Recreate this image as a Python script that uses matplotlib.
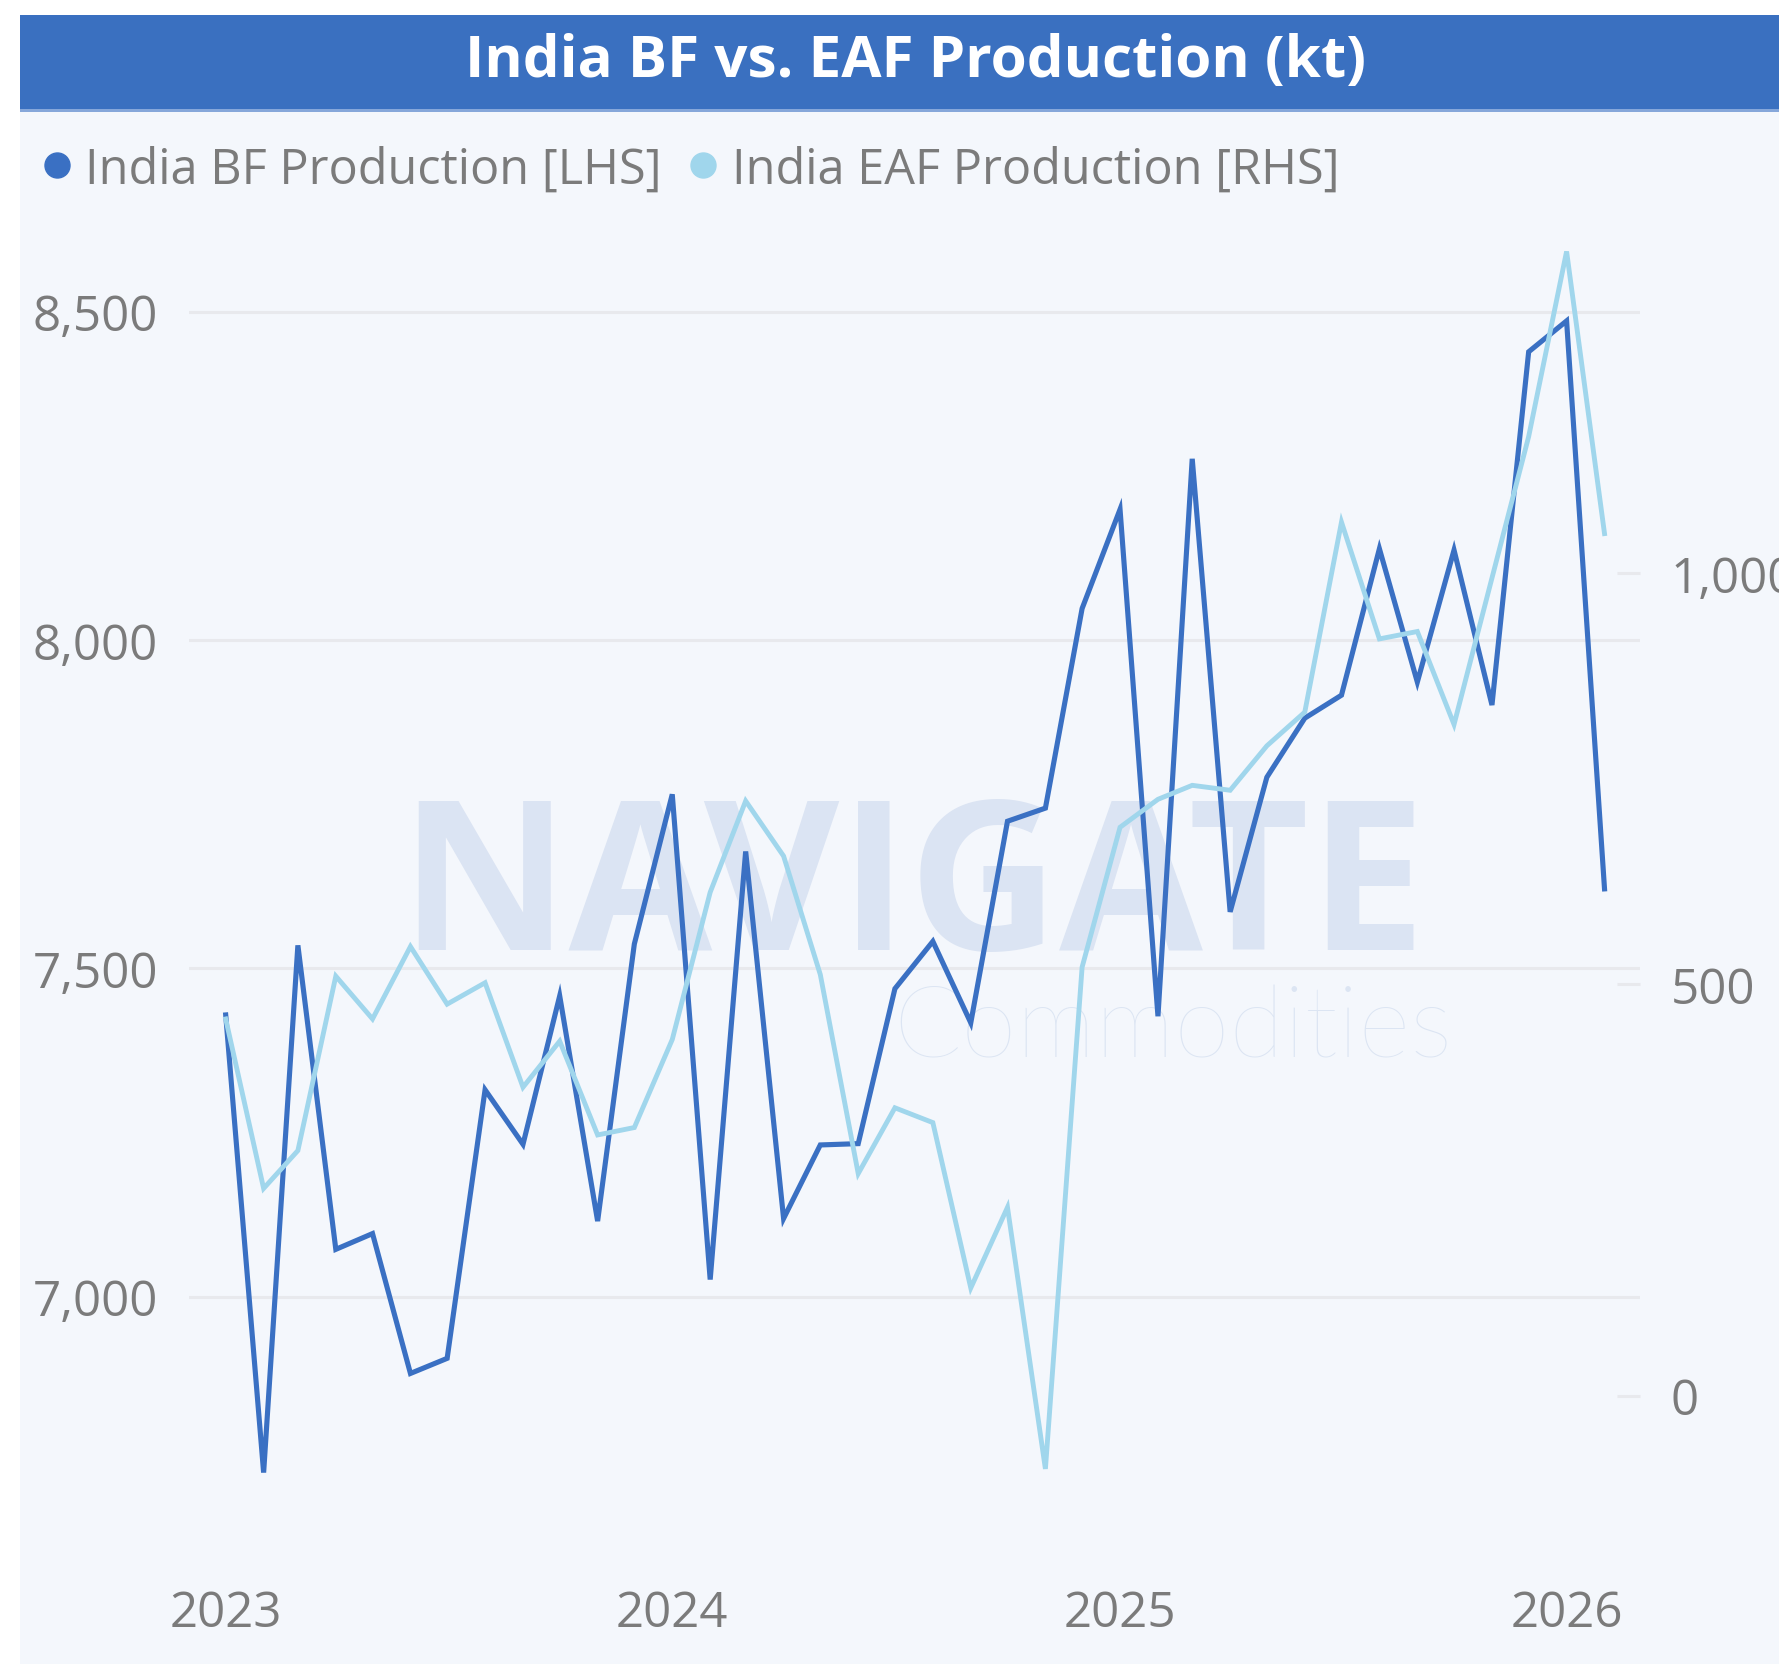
import matplotlib
matplotlib.use("Agg")
import matplotlib.pyplot as plt
from matplotlib.patches import Rectangle
from matplotlib.lines import Line2D
from matplotlib.ticker import FuncFormatter, FixedLocator
import pandas as pd

# ---------------- data ----------------
months = pd.date_range("2023-01-01", periods=38, freq="MS")
bf_production = [7429, 6732, 7535, 7072, 7096, 6883, 6906, 7315, 7232, 7458,
                 7115, 7537, 7765, 7026, 7678, 7119, 7231, 7233, 7469, 7541,
                 7417, 7724, 7744, 8048, 8199, 7427, 8276, 7586, 7791, 7881,
                 7916, 8139, 7936, 8137, 7901, 8439, 8486, 7621]
eaf_production = [458, 252, 298, 510, 458, 546, 476, 502, 375, 431,
                  317, 326, 433, 612, 723, 656, 512, 270, 350, 332,
                  131, 229, -89, 521, 691, 725, 742, 736, 790, 831,
                  1062, 920, 929, 816, 994, 1166, 1391, 1048]
left_ticks = [7000, 7500, 8000, 8500]
right_ticks = [0, 500, 1000]
year_ticks = ["2023-01-01", "2024-01-01", "2025-01-01", "2026-01-01"]
year_labels = ["2023", "2024", "2025", "2026"]
title = "India BF vs. EAF Production (kt)"
series_names = ["India BF Production [LHS]", "India EAF Production [RHS]"]

# ---------------- style ----------------
BF_COLOR = "#3a70c3"
EAF_COLOR = "#a0d6ec"
BAR_COLOR = "#3a70c0"
BG_COLOR = "#f4f7fc"
TEXT_GRAY = "#7b7b7b"
GRID = "#e8e9ed"

plt.rcParams["font.family"] = ["Open Sans", "DejaVu Sans"]

W, H = 1779, 1665
fig = plt.figure(figsize=(W / 100, H / 100), dpi=100)
fig.patch.set_facecolor("white")


def fx(px):
    return px / W


def fy(py):
    return 1 - py / H


# backgrounds (below the axes)
fig.patches.append(Rectangle((fx(20), 0), 1 - fx(20), fy(112), transform=fig.transFigure,
                             facecolor=BG_COLOR, edgecolor="none", zorder=-3))
fig.patches.append(Rectangle((fx(20), fy(110)), 1 - fx(20), fy(16) - fy(110),
                             transform=fig.transFigure, facecolor=BAR_COLOR,
                             edgecolor="none", zorder=-2))
fig.patches.append(Rectangle((fx(20), fy(113)), 1 - fx(20), fy(110) - fy(113),
                             transform=fig.transFigure, facecolor="#86a7da",
                             edgecolor="none", zorder=-2))

fig.text(fx(916), fy(77), title, ha="center", va="baseline", color="white",
         fontsize=42, fontweight="bold", zorder=3)

# legend
legend_items = [(57, 85, BF_COLOR), (703, 732, EAF_COLOR)]
for (dot_x, txt_x, col), name in zip(legend_items, series_names):
    fig.add_artist(Line2D([fx(dot_x)], [fy(166)], marker="o", markersize=18,
                          color=col, linestyle="none", transform=fig.transFigure))
    fig.text(fx(txt_x), fy(183.5), name, ha="left", va="baseline",
             color=TEXT_GRAY, fontsize=35)

# axes
top_px, bottom_px, left_px, right_px = 230, 1560, 189, 1640
ax = fig.add_axes([fx(left_px), fy(bottom_px), fx(right_px) - fx(left_px),
                   (bottom_px - top_px) / H])
ax.set_facecolor("none")
for s in ax.spines.values():
    s.set_visible(False)

# watermark
ax.text(fx(913), fy(950), "NAVIGATE", transform=fig.transFigure, ha="center",
        va="baseline", fontsize=150, fontweight="bold", color="#dbe4f3",
        family=["Open Sans", "DejaVu Sans"], zorder=0, clip_on=False)
ax.text(fx(1173), fy(1058), "Commodities", transform=fig.transFigure, ha="center",
        va="baseline", fontsize=72, fontweight="light", color="#dce5f3",
        family=["Lato", "Open Sans", "DejaVu Sans"], zorder=0, clip_on=False)

ax.plot(months, bf_production, color=BF_COLOR, linewidth=3.7,
        solid_joinstyle="miter", zorder=3)
ax.set_ylim(6600.4, 8626)
ax.set_xlim(pd.Timestamp("2022-12-02"), pd.Timestamp("2026-03-02"))
ax.yaxis.set_major_locator(FixedLocator(left_ticks))
ax.yaxis.set_major_formatter(FuncFormatter(lambda v, p: f"{v:,.0f}"))
ax.yaxis.grid(True, color=GRID, linewidth=2.2)
ax.set_axisbelow(True)
ax.tick_params(axis="y", length=0, pad=22.3, labelsize=35.5, labelcolor=TEXT_GRAY)
ax.set_xticks(pd.to_datetime(year_ticks))
ax.set_xticklabels(year_labels)
ax.tick_params(axis="x", length=0, pad=21, labelsize=35.5, labelcolor=TEXT_GRAY)

ax2 = ax.twinx()
ax2.set_facecolor("none")
for s in ax2.spines.values():
    s.set_visible(False)
ax2.plot(months, eaf_production, color=EAF_COLOR, linewidth=3.5,
         solid_joinstyle="miter", zorder=3)
ax2.set_ylim(-198.5, 1418.3)
ax2.yaxis.set_major_locator(FixedLocator(right_ticks))
ax2.yaxis.set_major_formatter(FuncFormatter(lambda v, p: f"{v:,.0f}"))
ax2.tick_params(axis="y", direction="in", length=16.5, width=2.2, color=GRID,
                pad=22.3, labelsize=35.5, labelcolor=TEXT_GRAY)

fig.savefig("out.png", dpi=100, facecolor="white")
